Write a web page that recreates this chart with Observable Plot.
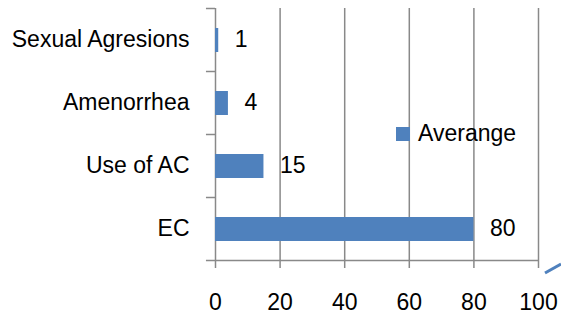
<!DOCTYPE html>
<html>
<head>
<meta charset="utf-8">
<script src="https://cdn.jsdelivr.net/npm/d3@7"></script>
<script src="https://cdn.jsdelivr.net/npm/@observablehq/plot@0.6"></script>
<style>
  html, body { margin: 0; padding: 0; background: #fff; }
  #wrap { position: relative; width: 561px; height: 314px; font-family: "Liberation Sans", Arial, sans-serif; }
  #legend { position: absolute; left: 396px; top: 120px; display: flex; align-items: center; font-size: 23px; color: #000; }
  #legend .sw { width: 14px; height: 14px; background: #4F81BD; margin-right: 8px; }
</style>
</head>
<body>
<div id="wrap">
  <div id="chart"></div>
  <div id="legend"><span class="sw"></span><span id="legend-label"></span></div>
</div>
<script>
const categories = ["Sexual Agresions", "Amenorrhea", "Use of AC", "EC"];
const values = [1, 4, 15, 80];
const xTicks = [0, 20, 40, 60, 80, 100];
const seriesName = "Averange";

const data = categories.map((c, i) => ({cat: c, value: values[i]}));
const grid = "#898989";
const barColor = "#4F81BD";

const chart = Plot.plot({
  width: 561,
  height: 314,
  marginLeft: 215,
  marginRight: 23,
  marginTop: 8,
  marginBottom: 54,
  style: {fontFamily: "Liberation Sans, Arial, sans-serif", fontSize: "23px", background: "#fff", color: "#000"},
  x: {domain: [0, 100], ticks: xTicks},
  y: {domain: categories, padding: 0},
  marks: [
    Plot.ruleX(xTicks, {stroke: grid, strokeWidth: 1.5}),
    Plot.ruleY(categories, {y: d => d, dy: -31.5, x1: -2.8, x2: 0, stroke: grid, strokeWidth: 1.5}),
    Plot.ruleY(categories.slice(-1), {y: d => d, dy: 31.5, x1: -2.8, x2: 100, stroke: grid, strokeWidth: 1.5}),
    Plot.barX(data, {x: "value", y: "cat", fill: barColor, insetTop: 20, insetBottom: 19}),
    Plot.text(data, {x: "value", y: "cat", text: d => String(d.value), textAnchor: "start", dx: 16, fill: "#000", fontSize: 23}),
    Plot.axisX(xTicks, {tickSize: 8, stroke: grid, strokeWidth: 1.5, strokeOpacity: 1, tickPadding: 25, fontSize: 23, label: null, tickFormat: d => String(d)}),
    Plot.axisY({tickSize: 0, tickPadding: 26, fontSize: 23, label: null})
  ]
});
document.getElementById("chart").appendChild(chart);
document.getElementById("legend-label").textContent = seriesName;

// small decorative stroke in lower-right corner of the reference
d3.select(chart).append("line")
  .attr("x1", 545).attr("y1", 273).attr("x2", 561).attr("y2", 264)
  .attr("stroke", barColor).attr("stroke-width", 3);
</script>
</body>
</html>
